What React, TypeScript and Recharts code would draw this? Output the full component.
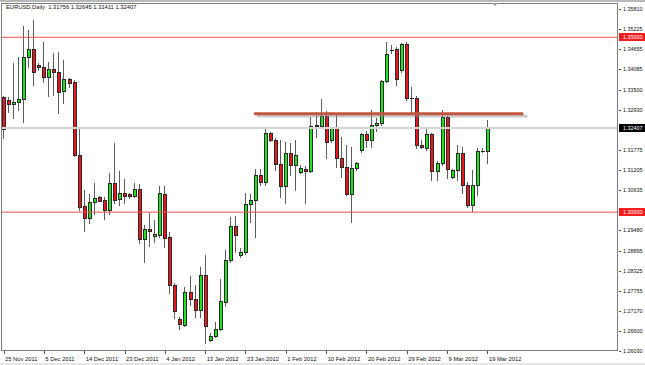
import React from 'react';
import { ComposedChart, Bar, XAxis, YAxis, ReferenceLine } from 'recharts';

// EURUSD daily, 25 Nov 2011 .. 19 Mar 2012 (Sunday bars included)
const opens = [
  1.3329, 1.3321, 1.3309, 1.3315, 1.3324, 1.3444, 1.3467, 1.3421, 1.3415, 1.3387,
  1.3409, 1.3401, 1.3347, 1.3381, 1.3372, 1.3164, 1.3018, 1.2984, 1.3029, 1.3044,
  1.3035, 1.3007, 1.3084, 1.3038, 1.3055, 1.3052, 1.3047, 1.3067, 1.2924, 1.2952,
  1.2932, 1.2935, 1.3052, 1.2929, 1.2792, 1.2695, 1.2678, 1.2772, 1.2752, 1.2721,
  1.2821, 1.2635, 1.2647, 1.2667, 1.2744, 1.2864, 1.2961, 1.2878, 1.2887, 1.3024,
  1.3035, 1.3105, 1.3087, 1.3227, 1.3207, 1.3138, 1.3075, 1.317, 1.3135, 1.3115,
  1.3124, 1.3118, 1.3247, 1.3247, 1.3275, 1.3207, 1.3241, 1.3155, 1.3129, 1.3052,
  1.3127, 1.3178, 1.3224, 1.3207, 1.3249, 1.3255, 1.3375, 1.3464, 1.3467, 1.3407,
  1.3481, 1.3327, 1.3327, 1.3192, 1.3184, 1.3224, 1.3118, 1.3141, 1.3272, 1.3101,
  1.3121, 1.317, 1.3078, 1.3021, 1.3078, 1.3176, 1.31756,
];
const highs = [
  1.3332, 1.3329, 1.3427, 1.3444, 1.3532, 1.3521, 1.3549, 1.3427, 1.3487, 1.3429,
  1.3455, 1.3458, 1.3435, 1.3384, 1.3378, 1.3238, 1.3064, 1.3052, 1.3084, 1.3046,
  1.3044, 1.3112, 1.3198, 1.3118, 1.3095, 1.3055, 1.3084, 1.3081, 1.2964, 1.2998,
  1.2978, 1.3075, 1.3075, 1.2943, 1.2798, 1.2701, 1.2787, 1.2818, 1.2792, 1.2844,
  1.2878, 1.2655, 1.2687, 1.281, 1.2893, 1.2987, 1.2989, 1.2898, 1.3055, 1.3052,
  1.3124, 1.3124, 1.3238, 1.3229, 1.3212, 1.3207, 1.3201, 1.3198, 1.3207, 1.3135,
  1.3132, 1.3272, 1.3287, 1.3324, 1.3289, 1.3244, 1.3284, 1.3215, 1.3192, 1.3187,
  1.3144, 1.3227, 1.3232, 1.3292, 1.3269, 1.3378, 1.3487, 1.3478, 1.3473, 1.3484,
  1.3487, 1.3358, 1.3332, 1.3207, 1.3241, 1.3227, 1.3147, 1.3292, 1.3274, 1.3124,
  1.3192, 1.3187, 1.3087, 1.3121, 1.3184, 1.3184, 1.32645,
];
const lows = [
  1.3212, 1.3287, 1.3269, 1.3292, 1.3258, 1.3415, 1.3364, 1.3407, 1.3372, 1.3332,
  1.3335, 1.3284, 1.3312, 1.3358, 1.3161, 1.3007, 1.2947, 1.297, 1.2995, 1.3032,
  1.2981, 1.2995, 1.3027, 1.3021, 1.3027, 1.3041, 1.3044, 1.2912, 1.2858, 1.2904,
  1.2915, 1.2929, 1.2901, 1.277, 1.2698, 1.2667, 1.2675, 1.2735, 1.2701, 1.2701,
  1.2627, 1.2632, 1.2644, 1.2664, 1.2732, 1.2858, 1.2887, 1.2872, 1.2881, 1.2972,
  1.2929, 1.3078, 1.3078, 1.3204, 1.3121, 1.3044, 1.3027, 1.3107, 1.3064, 1.3112,
  1.3027, 1.3115, 1.3215, 1.3244, 1.3155, 1.3201, 1.3129, 1.3101, 1.3049, 1.2972,
  1.3121, 1.3172, 1.3187, 1.3187, 1.3232, 1.3249, 1.3372, 1.3455, 1.3364, 1.3401,
  1.3321, 1.3284, 1.3184, 1.3184, 1.3178, 1.3092, 1.3092, 1.3135, 1.3098, 1.3098,
  1.3092, 1.3055, 1.3015, 1.3004, 1.3049, 1.3172, 1.31411,
];
const closes = [
  1.3238, 1.3309, 1.3315, 1.3324, 1.3444, 1.3467, 1.3401, 1.3415, 1.3387, 1.3409,
  1.3401, 1.3344, 1.3381, 1.337, 1.3164, 1.3015, 1.2984, 1.3029, 1.3041, 1.3033,
  1.3007, 1.3084, 1.3035, 1.3055, 1.3047, 1.3047, 1.3067, 1.2924, 1.2952, 1.2947,
  1.2938, 1.3055, 1.2927, 1.2792, 1.2718, 1.2681, 1.2772, 1.2752, 1.2721, 1.2821,
  1.2675, 1.2647, 1.2667, 1.2747, 1.2864, 1.2961, 1.2935, 1.2887, 1.3024, 1.3035,
  1.3107, 1.3087, 1.3227, 1.3207, 1.3138, 1.3075, 1.317, 1.3135, 1.3164, 1.3127,
  1.3118, 1.3247, 1.3249, 1.3275, 1.3201, 1.3241, 1.3155, 1.3129, 1.3052, 1.3127,
  1.3141, 1.3224, 1.3207, 1.3249, 1.3255, 1.3375, 1.3452, 1.3463, 1.3381, 1.3481,
  1.3327, 1.3325, 1.3192, 1.3187, 1.3224, 1.3118, 1.3141, 1.3272, 1.3124, 1.3121,
  1.317, 1.3078, 1.3021, 1.3078, 1.3175, 1.3175, 1.32407,
];

// one label every 8 bars
const xTicks = [0, 8, 16, 24, 32, 40, 48, 56, 64, 72, 80, 88, 96];
const xTickLabels = [
  '25 Nov 2011', '5 Dec 2011', '14 Dec 2011', '23 Dec 2011', '4 Jan 2012',
  '13 Jan 2012', '23 Jan 2012', '1 Feb 2012', '10 Feb 2012', '20 Feb 2012',
  '29 Feb 2012', '9 Mar 2012', '19 Mar 2012',
];
const yTicks = [
  1.3581, 1.35225, 1.35, 1.34655, 1.34085, 1.335, 1.3293, 1.32407, 1.31775,
  1.31205, 1.30635, 1.3, 1.2948, 1.28895, 1.28325, 1.27755, 1.2717, 1.266, 1.2603,
];

const upperLevel = 1.35;
const lowerLevel = 1.3;
const lastPrice = 1.32407;
const resistance = 1.3281;
const resistanceFrom = 49.7;
const resistanceTo = 103.1;

const rows = opens.map((o, i) => ({
  i,
  open: o,
  high: highs[i],
  low: lows[i],
  close: closes[i],
  range: [lows[i], highs[i]],
}));

const FONT = '"Liberation Sans", Arial, sans-serif';

const Candle = (props: any) => {
  const { x, y, width, height, payload } = props;
  if (x == null || y == null || !payload) return null;
  const top = Math.min(y, y + height);
  const bot = Math.max(y, y + height);
  const { open, close, high, low } = payload;
  const py = (v: number) => top + ((high - v) / (high - low)) * (bot - top);
  const cx = Math.round(x + width / 2 - 0.5) + 0.5;
  const up = close >= open;
  const bTop = Math.round(py(Math.max(open, close))) + 0.5;
  const bBot = Math.round(py(Math.min(open, close))) + 0.5;
  return (
    <g>
      <line x1={cx} x2={cx} y1={Math.round(top)} y2={Math.round(bot) + 1} stroke="#5c5c5c" strokeWidth={1} />
      {bBot - bTop < 1 ? (
        <line x1={cx - 1.5} x2={cx + 2.5} y1={bTop} y2={bTop} stroke="#222" strokeWidth={1} />
      ) : (
        <rect
          x={cx - 1}
          y={bTop}
          width={3}
          height={bBot - bTop}
          fill={up ? '#1ee31e' : '#e8171b'}
          stroke="#2a2a2a"
          strokeWidth={1}
        />
      )}
    </g>
  );
};

const XTick = (props: any) => {
  const { x, y, index } = props;
  const px = Math.round(x) + 0.5;
  return (
    <g>
      <line x1={px} x2={px} y1={y} y2={y + 3} stroke="#555" />
      <text x={x + 1.5} y={y + 10} fontSize={5.8} fontFamily={FONT} fill="#111" textAnchor="start">
        {xTickLabels[index]}
      </text>
    </g>
  );
};

const YTick = (props: any) => {
  const { x, y, payload } = props;
  const v = payload.value as number;
  const bg = v === upperLevel || v === lowerLevel ? '#f21d1d' : v === lastPrice ? '#000' : null;
  const py = Math.round(y) + 0.5;
  return (
    <g>
      {bg ? (
        <rect x={x + 1} y={py - 4.5} width={26} height={8} fill={bg} />
      ) : (
        <line x1={x + 1} x2={x + 3} y1={py} y2={py} stroke="#444" />
      )}
      <text x={x + 5} y={py} dy="0.35em" fontSize={5.4} fontFamily={FONT} fill={bg ? '#fff' : '#111'}>
        {v.toFixed(5)}
      </text>
    </g>
  );
};

export default function App() {
  return (
    <div style={{ position: 'relative', width: 645, height: 365, background: '#fff', overflow: 'hidden' }}>
      <style>{'body{margin:0}'}</style>
      <ComposedChart
        width={645}
        height={365}
        data={rows}
        margin={{ top: 3, right: 0, bottom: 0, left: 1 }}
      >
        <XAxis
          type="number"
          dataKey="i"
          domain={[-0.5, 121.9]}
          allowDataOverflow
          ticks={xTicks}
          interval={0}
          height={14}
          axisLine={false}
          tickLine={false}
          tickSize={0}
          tickMargin={0}
          tick={<XTick />}
        />
        <YAxis
          orientation="right"
          type="number"
          domain={[1.2603, 1.3598]}
          allowDataOverflow
          ticks={yTicks}
          interval={0}
          width={27}
          axisLine={false}
          tickLine={false}
          tickSize={0}
          tickMargin={0}
          tick={<YTick />}
        />
        <ReferenceLine y={lastPrice} stroke="#d4d4d4" strokeWidth={2} />
        <ReferenceLine y={upperLevel} stroke="#f25050" strokeWidth={1} />
        <ReferenceLine y={lowerLevel} stroke="#f25050" strokeWidth={1} />
        <Bar dataKey="range" barSize={3} isAnimationActive={false} shape={(p: any) => <Candle {...p} />} />
        <ReferenceLine
          segment={[
            { x: resistanceFrom + 0.6, y: resistance - 0.0006 },
            { x: resistanceTo + 0.8, y: resistance - 0.0006 },
          ]}
          stroke="#8a8a8a"
          strokeOpacity={0.45}
          strokeWidth={3}
        />
        <ReferenceLine
          segment={[
            { x: resistanceFrom, y: resistance },
            { x: resistanceTo, y: resistance },
          ]}
          stroke="#c4553f"
          strokeWidth={3}
        />
      </ComposedChart>
      {/* window chrome */}
      <div style={{ position: 'absolute', left: 0, top: 0, width: 645, height: 2, background: '#b8b8b8' }} />
      <div style={{ position: 'absolute', left: 0, top: 363, width: 645, height: 2, background: '#e6e6e6' }} />
      <div
        style={{
          position: 'absolute', left: 1, top: 3, width: 617, height: 348,
          border: '1px solid #7c7c7c', boxSizing: 'border-box', pointerEvents: 'none',
        }}
      />
      <div
        style={{
          position: 'absolute', left: 492, top: 3, width: 0, height: 0,
          borderLeft: '3px solid transparent', borderRight: '3px solid transparent', borderTop: '3px solid #999',
        }}
      />
      <div
        style={{
          position: 'absolute', left: 6, top: 4, fontSize: 5.8, lineHeight: '6px',
          fontFamily: FONT, color: '#111', whiteSpace: 'pre',
        }}
      >
        {'EURUSD,Daily  1.31756 1.32645 1.31411 1.32407'}
      </div>
    </div>
  );
}
